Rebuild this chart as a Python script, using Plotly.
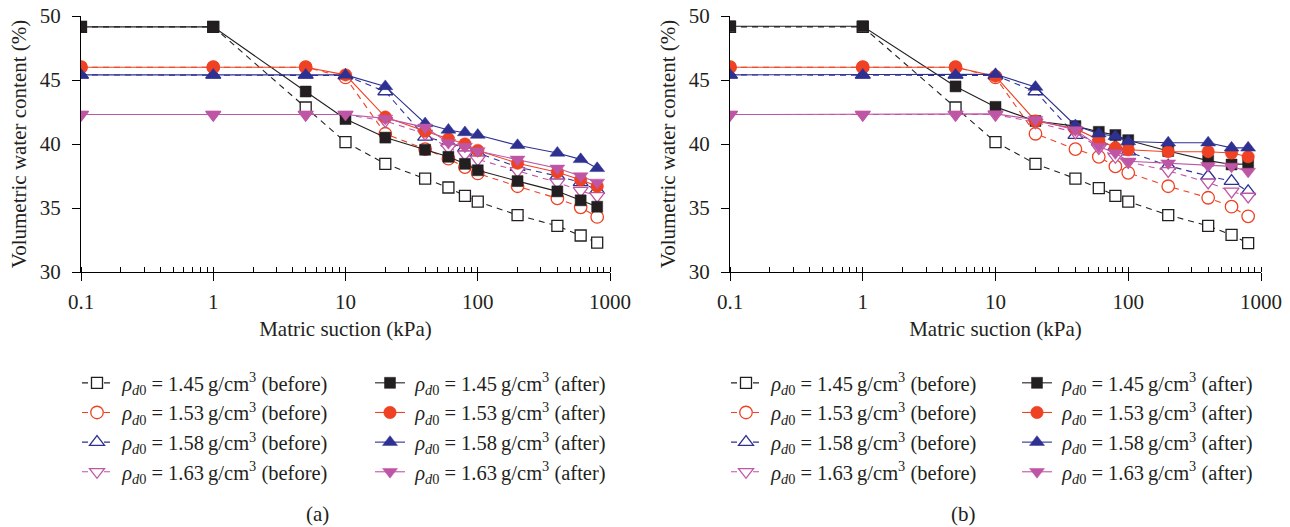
import plotly.graph_objects as go

# ---------------- data ----------------
suction = [0.1, 1, 5, 10, 20, 40, 60, 80, 100, 200, 400, 600, 800]
densities = ["1.45", "1.53", "1.58", "1.63"]

# panel (a)
a_before_145 = [49.15, 49.15, 42.85, 40.15, 38.45, 37.3, 36.6, 35.95, 35.5, 34.45, 33.6, 32.85, 32.3]
a_before_153 = [46.0, 46.0, 46.0, 45.2, 40.8, 39.6, 38.85, 38.2, 37.7, 36.7, 35.75, 35.05, 34.3]
a_before_158 = [45.4, 45.4, 45.4, 45.35, 44.1, 40.55, 40.1, 39.7, 39.3, 38.2, 37.5, 37.0, 36.4]
a_before_163 = [42.3, 42.3, 42.3, 42.3, 41.8, 40.8, 39.7, 39.2, 38.8, 37.9, 37.0, 36.35, 35.95]
a_after_145 = [49.15, 49.15, 44.1, 41.95, 40.5, 39.55, 39.0, 38.45, 37.95, 37.1, 36.3, 35.6, 35.1]
a_after_153 = [46.0, 46.0, 46.0, 45.4, 42.1, 41.0, 40.4, 40.0, 39.5, 38.5, 37.8, 37.2, 36.7]
a_after_158 = [45.4, 45.4, 45.4, 45.4, 44.5, 41.6, 41.1, 40.9, 40.7, 39.9, 39.3, 38.8, 38.1]
a_after_163 = [42.3, 42.3, 42.3, 42.3, 42.0, 41.3, 40.1, 39.8, 39.45, 38.8, 38.1, 37.5, 37.0]

# panel (b)
b_before_145 = [49.15, 49.15, 42.85, 40.15, 38.45, 37.3, 36.55, 35.95, 35.5, 34.45, 33.6, 32.9, 32.25]
b_before_153 = [46.0, 46.0, 46.0, 45.2, 40.8, 39.6, 39.0, 38.25, 37.75, 36.7, 35.8, 35.1, 34.35]
b_before_158 = [45.4, 45.4, 45.4, 45.35, 44.1, 40.7, 40.2, 39.8, 39.4, 38.3, 37.5, 37.1, 36.3]
b_before_163 = [42.3, 42.3, 42.3, 42.3, 41.7, 40.9, 39.7, 39.0, 38.6, 37.9, 37.0, 36.3, 35.9]
b_after_145 = [49.2, 49.2, 44.5, 42.9, 41.8, 41.4, 40.95, 40.7, 40.3, 39.45, 38.7, 38.4, 38.45]
b_after_153 = [46.0, 46.0, 46.0, 45.3, 41.8, 41.2, 40.3, 39.7, 39.55, 39.4, 39.4, 39.3, 39.0]
b_after_158 = [45.4, 45.4, 45.4, 45.45, 44.45, 41.45, 40.8, 40.6, 40.2, 40.1, 40.1, 39.7, 39.7]
b_after_163 = [42.3, 42.3, 42.3, 42.35, 41.9, 41.1, 39.8, 39.3, 38.65, 38.5, 38.3, 38.25, 37.85]

x_ticks = [0.1, 1, 10, 100, 1000]
x_ticktext = ["0.1", "1", "10", "100", "1000"]
y_ticks = [30, 35, 40, 45, 50]

# ---------------- style ----------------
colors = ["#231f20", "#ef4123", "#2e3192", "#bf56a5"]
symbols = ["square", "circle", "triangle-up", "triangle-down"]
msize = [11, 12.5, 13, 13]
FONT = "Liberation Serif, Times New Roman, serif"
TXT = "#231f20"

fig = go.Figure()

panels = [
    ("x", "y", [a_before_145, a_before_153, a_before_158, a_before_163],
     [a_after_145, a_after_153, a_after_158, a_after_163], "legend", "legend2"),
    ("x2", "y2", [b_before_145, b_before_153, b_before_158, b_before_163],
     [b_after_145, b_after_153, b_after_158, b_after_163], "legend3", "legend4"),
]

LEAD = "\u2005"
for xa, ya, befores, afters, lg_b, lg_a in panels:
    for i, vals in enumerate(befores):
        fig.add_trace(go.Scatter(
            x=suction, y=vals, xaxis=xa, yaxis=ya, mode="lines+markers",
            name=f"{LEAD}<i>ρ</i><sub><i>d</i>0</sub> = {densities[i]}\u2009g/cm<sup>3</sup> (before)",
            line=dict(color=colors[i], width=1.1, dash="6px,5px"),
            marker=dict(symbol=symbols[i], size=msize[i], color="white",
                        line=dict(color=colors[i], width=1.3)),
            legend=lg_b, legendgroup=f"{lg_b}{i}",
        ))
    for i, vals in enumerate(afters):
        fig.add_trace(go.Scatter(
            x=suction, y=vals, xaxis=xa, yaxis=ya, mode="lines+markers",
            name=f"{LEAD}<i>ρ</i><sub><i>d</i>0</sub> = {densities[i]}\u2009g/cm<sup>3</sup> (after)",
            line=dict(color=colors[i], width=1.1),
            marker=dict(symbol=symbols[i], size=msize[i], color=colors[i],
                        line=dict(color=colors[i], width=0.5)),
            legend=lg_a, legendgroup=f"{lg_a}{i}",
        ))

W, H = 1290, 527
ydom = [1 - 272 / H, 1 - 16 / H]
FS = 21

xaxis_common = dict(
    type="log", range=[-1, 3], tickvals=x_ticks, ticktext=x_ticktext, automargin=False,
    showline=True, linecolor="black", linewidth=1, ticks="outside", ticklen=8,
    tickcolor="black", showgrid=False, zeroline=False, ticklabelstandoff=3,
    minor=dict(ticks="inside", ticklen=5, tickcolor="black", dtick="D1", showgrid=False),
    tickfont=dict(family=FONT, size=FS, color=TXT),
    title=dict(text="Matric suction (kPa)", font=dict(family=FONT, size=FS, color=TXT), standoff=8),
)
yaxis_common = dict(
    range=[30, 50], tickvals=y_ticks, showline=True, linecolor="black", linewidth=1,
    ticks="outside", ticklen=8, tickcolor="black", showgrid=False, zeroline=False,
    ticklabelstandoff=7, automargin=False,
    tickfont=dict(family=FONT, size=FS, color=TXT),
    title=dict(text="Volumetric water content (%)", font=dict(family=FONT, size=FS, color=TXT), standoff=7),
)

legend_common = dict(
    font=dict(family=FONT, size=20.5, color=TXT), bgcolor="rgba(0,0,0,0)",
    xanchor="left", yanchor="top", tracegroupgap=4, orientation="v", traceorder="normal",
)

LEG_TOP = 1 - 363 / H
fig.update_layout(
    width=W, height=H, margin=dict(l=0, r=0, t=0, b=0, autoexpand=False),
    paper_bgcolor="white", plot_bgcolor="white",
    xaxis=dict(domain=[81 / W, 610 / W], anchor="y", **xaxis_common),
    yaxis=dict(domain=ydom, anchor="x", **yaxis_common),
    xaxis2=dict(domain=[730 / W, 1261 / W], anchor="y2", **xaxis_common),
    yaxis2=dict(domain=ydom, anchor="x2", **yaxis_common),
    legend=dict(x=77 / W, y=LEG_TOP, **legend_common),
    legend2=dict(x=370 / W, y=LEG_TOP, **legend_common),
    legend3=dict(x=726 / W, y=LEG_TOP, **legend_common),
    legend4=dict(x=1017 / W, y=LEG_TOP, **legend_common),
    annotations=[
        dict(text="(a)", x=317 / W, y=1 - 514 / H, xref="paper", yref="paper",
             xanchor="center", yanchor="middle",
             showarrow=False, font=dict(family=FONT, size=FS, color=TXT)),
        dict(text="(b)", x=963 / W, y=1 - 514 / H, xref="paper", yref="paper",
             xanchor="center", yanchor="middle",
             showarrow=False, font=dict(family=FONT, size=FS, color=TXT)),
    ],
)

fig.write_html("out.html")
